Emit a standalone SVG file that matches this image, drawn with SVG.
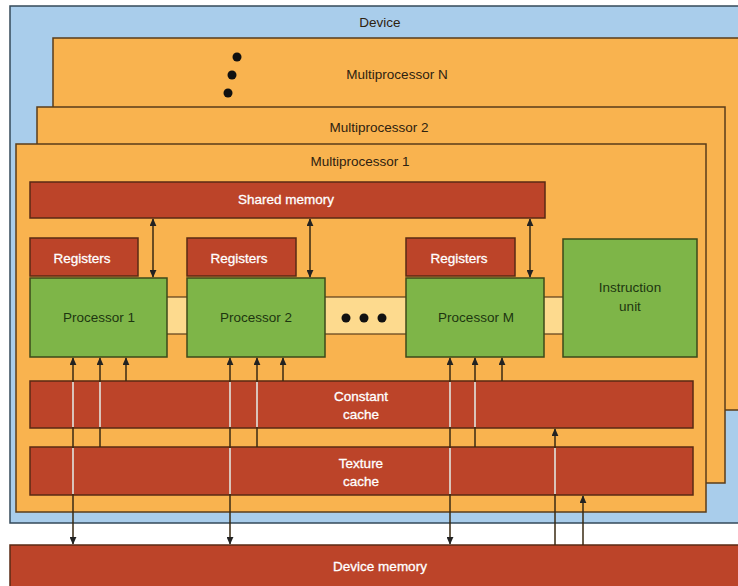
<svg xmlns="http://www.w3.org/2000/svg" width="738" height="586" viewBox="0 0 738 586">
<defs>
<style>
.dev{fill:#A9CDEB;stroke:#34495a;stroke-width:1.5}
.mp{fill:#F9B34F;stroke:#5a3d1a;stroke-width:1.5}
.red{fill:#BC4429;stroke:#5a2a14;stroke-width:1.5}
.grn{fill:#7EB548;stroke:#3d4a1a;stroke-width:1.5}
.bar{fill:#FDDA8E;stroke:#5a3d1a;stroke-width:1.2}
text{font-family:"Liberation Sans","DejaVu Sans",sans-serif;font-size:13.5px;text-anchor:middle;dominant-baseline:central}
.dk{fill:#2e2210}
.wt{fill:#ffffff;stroke:#ffffff;stroke-width:0.3}
.gt{fill:#1d3510}
.ln{stroke:#3a2a12;stroke-width:1.5;fill:none}
.hl{stroke:#fbeae4;stroke-width:1.6;fill:none}
</style>
<marker id="ah" viewBox="0 0 10 10" refX="9" refY="5" markerWidth="8" markerHeight="7" markerUnits="userSpaceOnUse" orient="auto-start-reverse" preserveAspectRatio="none">
<path d="M0,0 L10,5 L0,10 z" fill="#222"/>
</marker>
</defs>

<g id="device">
<rect class="dev" x="10" y="6" width="740" height="517"/>
<text class="dk" x="380" y="22">Device</text>
</g>

<g id="multiprocessorN">
<rect class="mp" x="53" y="38" width="700" height="372"/>
<text class="dk" x="397" y="74">Multiprocessor N</text>
<circle cx="237" cy="57" r="4.5" fill="#111"/>
<circle cx="232" cy="75" r="4.5" fill="#111"/>
<circle cx="228" cy="93" r="4.5" fill="#111"/>
</g>

<g id="multiprocessor2">
<rect class="mp" x="37" y="107" width="688" height="376"/>
<text class="dk" x="379" y="127">Multiprocessor 2</text>
</g>

<g id="multiprocessor1">
<rect class="mp" x="16" y="144" width="690" height="368"/>
<text class="dk" x="360" y="161">Multiprocessor 1</text>
</g>

<g id="shared-memory">
<rect class="red" x="30" y="182" width="515" height="36"/>
<text class="wt" x="286" y="199">Shared memory</text>
</g>

<g id="processor-bus">
<rect class="bar" x="160" y="297" width="410" height="37"/>
<circle cx="346" cy="318" r="4.5" fill="#111"/>
<circle cx="364" cy="318" r="4.5" fill="#111"/>
<circle cx="382" cy="318" r="4.5" fill="#111"/>
</g>

<g id="registers1">
<rect class="red" x="30" y="238" width="108" height="38"/>
<text class="wt" x="82" y="258">Registers</text>
</g>
<g id="registers2">
<rect class="red" x="187" y="238" width="109" height="38"/>
<text class="wt" x="239" y="258">Registers</text>
</g>
<g id="registersM">
<rect class="red" x="406" y="238" width="109" height="38"/>
<text class="wt" x="459" y="258">Registers</text>
</g>

<g id="processor1">
<rect class="grn" x="30" y="278" width="137" height="79"/>
<text class="gt" x="99" y="317">Processor 1</text>
</g>
<g id="processor2">
<rect class="grn" x="187" y="278" width="138" height="79"/>
<text class="gt" x="256" y="317">Processor 2</text>
</g>
<g id="processorM">
<rect class="grn" x="406" y="278" width="138" height="79"/>
<text class="gt" x="476" y="317">Processor M</text>
</g>
<g id="instruction-unit">
<rect class="grn" x="563" y="239" width="134" height="118"/>
<text class="gt" x="630" y="287">Instruction</text>
<text class="gt" x="630" y="306">unit</text>
</g>

<g id="constant-cache">
<rect class="red" x="30" y="381" width="663" height="47"/>
<text class="wt" x="361" y="396">Constant</text>
<text class="wt" x="361" y="414">cache</text>
</g>
<g id="texture-cache">
<rect class="red" x="30" y="447" width="663" height="48"/>
<text class="wt" x="361" y="463">Texture</text>
<text class="wt" x="361" y="481">cache</text>
</g>

<g id="device-memory">
<rect class="red" x="10" y="545" width="740" height="50"/>
<text class="wt" x="380" y="566">Device memory</text>
</g>

<g id="connectors">
<line class="ln" x1="153" y1="219" x2="153" y2="277" marker-start="url(#ah)" marker-end="url(#ah)"/>
<line class="ln" x1="310" y1="219" x2="310" y2="277" marker-start="url(#ah)" marker-end="url(#ah)"/>
<line class="ln" x1="530" y1="219" x2="530" y2="277" marker-start="url(#ah)" marker-end="url(#ah)"/>

<line class="ln" x1="73" y1="544" x2="73" y2="358" marker-start="url(#ah)" marker-end="url(#ah)"/>
<line class="ln" x1="100" y1="447" x2="100" y2="358" marker-end="url(#ah)"/>
<line class="ln" x1="126" y1="381" x2="126" y2="358" marker-end="url(#ah)"/>

<line class="ln" x1="230" y1="544" x2="230" y2="358" marker-start="url(#ah)" marker-end="url(#ah)"/>
<line class="ln" x1="257" y1="447" x2="257" y2="358" marker-end="url(#ah)"/>
<line class="ln" x1="283" y1="381" x2="283" y2="358" marker-end="url(#ah)"/>

<line class="ln" x1="450" y1="544" x2="450" y2="358" marker-start="url(#ah)" marker-end="url(#ah)"/>
<line class="ln" x1="475" y1="447" x2="475" y2="358" marker-end="url(#ah)"/>
<line class="ln" x1="502" y1="381" x2="502" y2="358" marker-end="url(#ah)"/>

<line class="ln" x1="555" y1="545" x2="555" y2="429" marker-end="url(#ah)"/>
<line class="ln" x1="583" y1="545" x2="583" y2="496" marker-end="url(#ah)"/>

<line class="hl" x1="73" y1="382" x2="73" y2="427"/>
<line class="hl" x1="73" y1="448" x2="73" y2="494"/>
<line class="hl" x1="100" y1="382" x2="100" y2="427"/>
<line class="hl" x1="230" y1="382" x2="230" y2="427"/>
<line class="hl" x1="230" y1="448" x2="230" y2="494"/>
<line class="hl" x1="257" y1="382" x2="257" y2="427"/>
<line class="hl" x1="450" y1="382" x2="450" y2="427"/>
<line class="hl" x1="450" y1="448" x2="450" y2="494"/>
<line class="hl" x1="475" y1="382" x2="475" y2="427"/>
<line class="hl" x1="555" y1="448" x2="555" y2="494"/>
</g>
</svg>
